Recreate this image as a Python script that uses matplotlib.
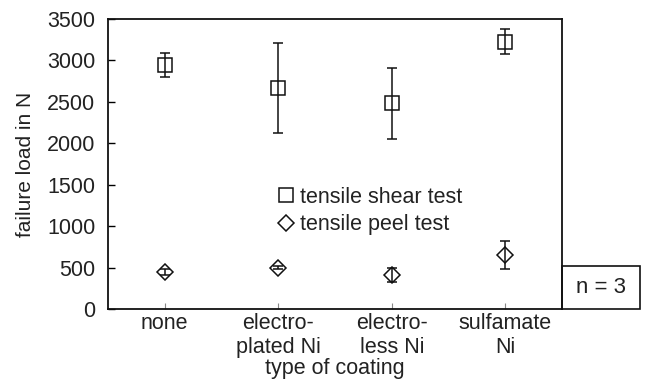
import matplotlib.pyplot as plt
from matplotlib.patches import Rectangle

plt.rcParams['font.family'] = ['Liberation Sans', 'DejaVu Sans']

# data
coatings = ['none', 'electro-\nplated Ni', 'electro-\nless Ni', 'sulfamate\nNi']
shear_mean = [2945, 2665, 2480, 3225]
shear_err = [145, 540, 425, 150]
peel_mean = [447, 499, 411, 652]
peel_err = [40, 20, 80, 170]

fig = plt.figure(figsize=(6.49, 3.8), dpi=100)
ax = fig.add_axes([0.1664, 0.187, 0.6996, 0.763])

x = range(len(coatings))
ax.errorbar(x, shear_mean, yerr=shear_err, fmt='s', ms=9.5, mfc='none', mec='#111',
            mew=1.1, ecolor='#111', elinewidth=1.1, capsize=3.5, capthick=1.1,
            label='tensile shear test')
ax.errorbar(x, peel_mean, yerr=peel_err, fmt='D', ms=7.8, mfc='none', mec='#111',
            mew=1.1, ecolor='#111', elinewidth=1.1, capsize=3.5, capthick=1.1,
            label='tensile peel test')

ax.set_xlim(-0.5, 3.5)
ax.set_ylim(0, 3500)
ax.set_yticks(range(0, 3501, 500))
ax.set_xticks(list(x))
ax.set_xticklabels(coatings, linespacing=1.2)
ax.tick_params(axis='y', direction='in', length=5, width=1, pad=9,
               labelsize=15.5, labelcolor='#222')
ax.tick_params(axis='x', direction='in', length=4, width=0.8, color='#888', pad=3,
               labelsize=15.5, labelcolor='#222')
for s in ax.spines.values():
    s.set_linewidth(1.3)
    s.set_color('#111')

ax.set_ylabel('failure load in N', fontsize=15, color='#222', labelpad=9)
ax.set_xlabel('type of coating', fontsize=15.5, color='#222', labelpad=0)

# legend without error bar lines
h, l = ax.get_legend_handles_labels()
h = [hh[0] for hh in h]
ax.legend(h, l, loc='upper left', bbox_to_anchor=(0.352, 0.459), frameon=False,
          fontsize=15.5, handlelength=0.7, handletextpad=0.3, borderpad=0,
          labelspacing=0.3, labelcolor='#222')

# n = 3 box beside the axes
fig.patches.append(Rectangle((0.866, 0.187), 0.12, 0.113, transform=fig.transFigure,
                             fill=False, edgecolor='#111', linewidth=1.2))
fig.text(0.926, 0.2434, 'n = 3', ha='center', va='center', fontsize=16, color='#222')

fig.savefig('out.png', dpi=100)
